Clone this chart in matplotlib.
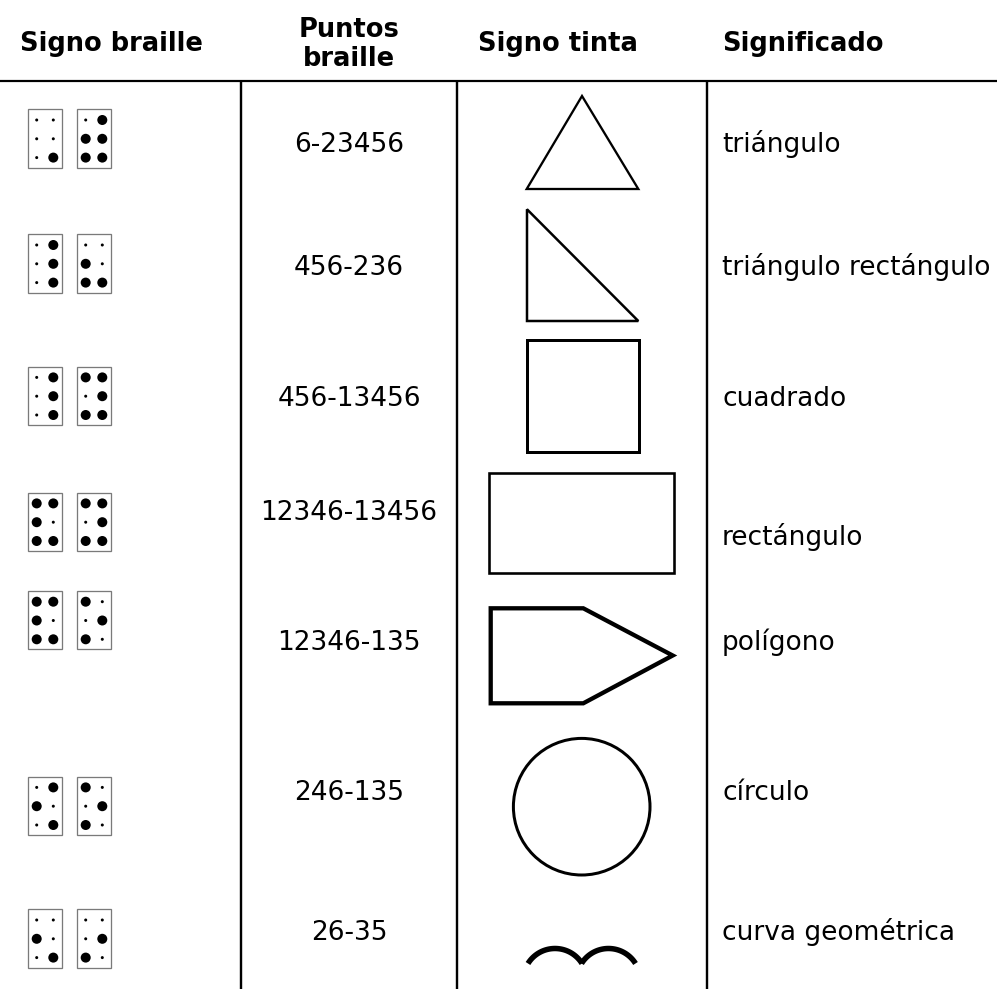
import numpy as np
import matplotlib
matplotlib.use("Agg")
import matplotlib.pyplot as plt
from matplotlib.patches import Rectangle, Circle, Polygon

# ---- data ----
headers = ["Signo braille", "Puntos\nbraille", "Signo tinta", "Significado"]
braille_dots = ["6-23456", "456-236", "456-13456", "12346-13456", "12346-135", "246-135", "26-35"]
shapes = ["triangle", "right_triangle", "square", "rectangle", "pentagon", "circle", "curve"]
meanings = ["triángulo", "triángulo rectángulo", "cuadrado", "rectángulo", "polígono",
            "círculo", "curva geométrica"]

W, H = 997, 989
fig = plt.figure(figsize=(W / 100, H / 100), dpi=100)
ax = fig.add_axes([0, 0, 1, 1])
ax.set_xlim(0, W)
ax.set_ylim(H, 0)
ax.axis("off")

PX = 0.72  # points per pixel
FONT = "DejaVu Sans"

# ---- grid ----
ax.plot([0, W], [81, 81], color="black", lw=2.2 * PX, solid_capstyle="butt")
for x in [240.7, 457, 706.7]:
    ax.plot([x, x], [81, H], color="black", lw=2.4 * PX, solid_capstyle="butt")

# ---- headers ----
hfs = 18.5
ax.text(20, 51, headers[0], fontsize=hfs, fontweight="bold", family=FONT, ha="left", va="baseline")
ax.text(349, 66, headers[1], fontsize=hfs, fontweight="bold", family=FONT, ha="center", va="baseline",
        linespacing=1.15, multialignment="center")
ax.text(478, 51, headers[2], fontsize=hfs, fontweight="bold", family=FONT, ha="left", va="baseline")
ax.text(722, 51, headers[3], fontsize=hfs, fontweight="bold", family=FONT, ha="left", va="baseline")

# ---- braille cells ----
cell_tops = [109.3, 234.3, 366.7, 492.7, 591, 776.7, 909.3]
cell_lefts = [27.7, 76.7]
CW, CH = 34.6, 58.3
col_off = [9.0, 25.6]
row_off = [10.7, 29.5, 48.3]


def draw_cell(x0, y0, dots):
    ax.add_patch(Rectangle((x0, y0), CW, CH, fill=False, edgecolor="#7a7a7a", lw=1.3 * PX))
    for d in range(1, 7):
        c = 0 if d <= 3 else 1
        r = (d - 1) % 3
        cx = x0 + col_off[c]
        cy = y0 + row_off[r]
        if str(d) in dots:
            ax.add_patch(Circle((cx, cy), 5.0, color="black", lw=0))
        else:
            ax.add_patch(Circle((cx, cy), 1.5, color="black", lw=0))


for i, code in enumerate(braille_dots):
    parts = code.split("-")
    for j, p in enumerate(parts):
        draw_cell(cell_lefts[j], cell_tops[i], p)

# ---- text rows ----
bfs = 19
num_baselines = [152, 275, 406, 520, 650, 800, 940]
mean_baselines = [152, 275, 406, 545, 650, 800, 940]
for i in range(len(braille_dots)):
    ax.text(349, num_baselines[i], braille_dots[i], fontsize=bfs, family=FONT, ha="center", va="baseline")
    ax.text(722, mean_baselines[i], meanings[i], fontsize=bfs, family=FONT, ha="left", va="baseline")

# ---- ink signs ----
k = "black"
for s in shapes:
    if s == "triangle":
        ax.add_patch(Polygon([[526.7, 189], [582, 96], [638.3, 189]], closed=True, fill=False,
                             edgecolor=k, lw=2.3 * PX, joinstyle="miter"))
    elif s == "right_triangle":
        ax.add_patch(Polygon([[527, 209.3], [527, 321], [638.3, 321]], closed=True, fill=False,
                             edgecolor=k, lw=2.5 * PX, joinstyle="miter"))
    elif s == "square":
        ax.add_patch(Rectangle((526.5, 340), 112, 112.3, fill=False, edgecolor=k, lw=3 * PX))
    elif s == "rectangle":
        ax.add_patch(Rectangle((489.3, 472.7), 185, 100.6, fill=False, edgecolor=k, lw=2.6 * PX))
    elif s == "pentagon":
        ax.add_patch(Polygon([[490.7, 608.3], [583.3, 608.3], [672.7, 655.5], [583.3, 703.3], [490.7, 703.3]],
                             closed=True, fill=False, edgecolor=k, lw=4.3 * PX, joinstyle="miter"))
    elif s == "circle":
        ax.add_patch(Circle((581.7, 806.7), 68.3, fill=False, edgecolor=k, lw=3 * PX))
    elif s == "curve":
        R = 31.8
        half = np.arcsin(27 / R)
        t = np.linspace(-half, half, 60)
        for cx in (555, 608.5):
            xs = cx + R * np.sin(t)
            ys = 948.5 + R - R * np.cos(t)
            ax.plot(xs, ys, color=k, lw=5.5 * PX, solid_capstyle="butt")

fig.savefig("out.png", dpi=100)
